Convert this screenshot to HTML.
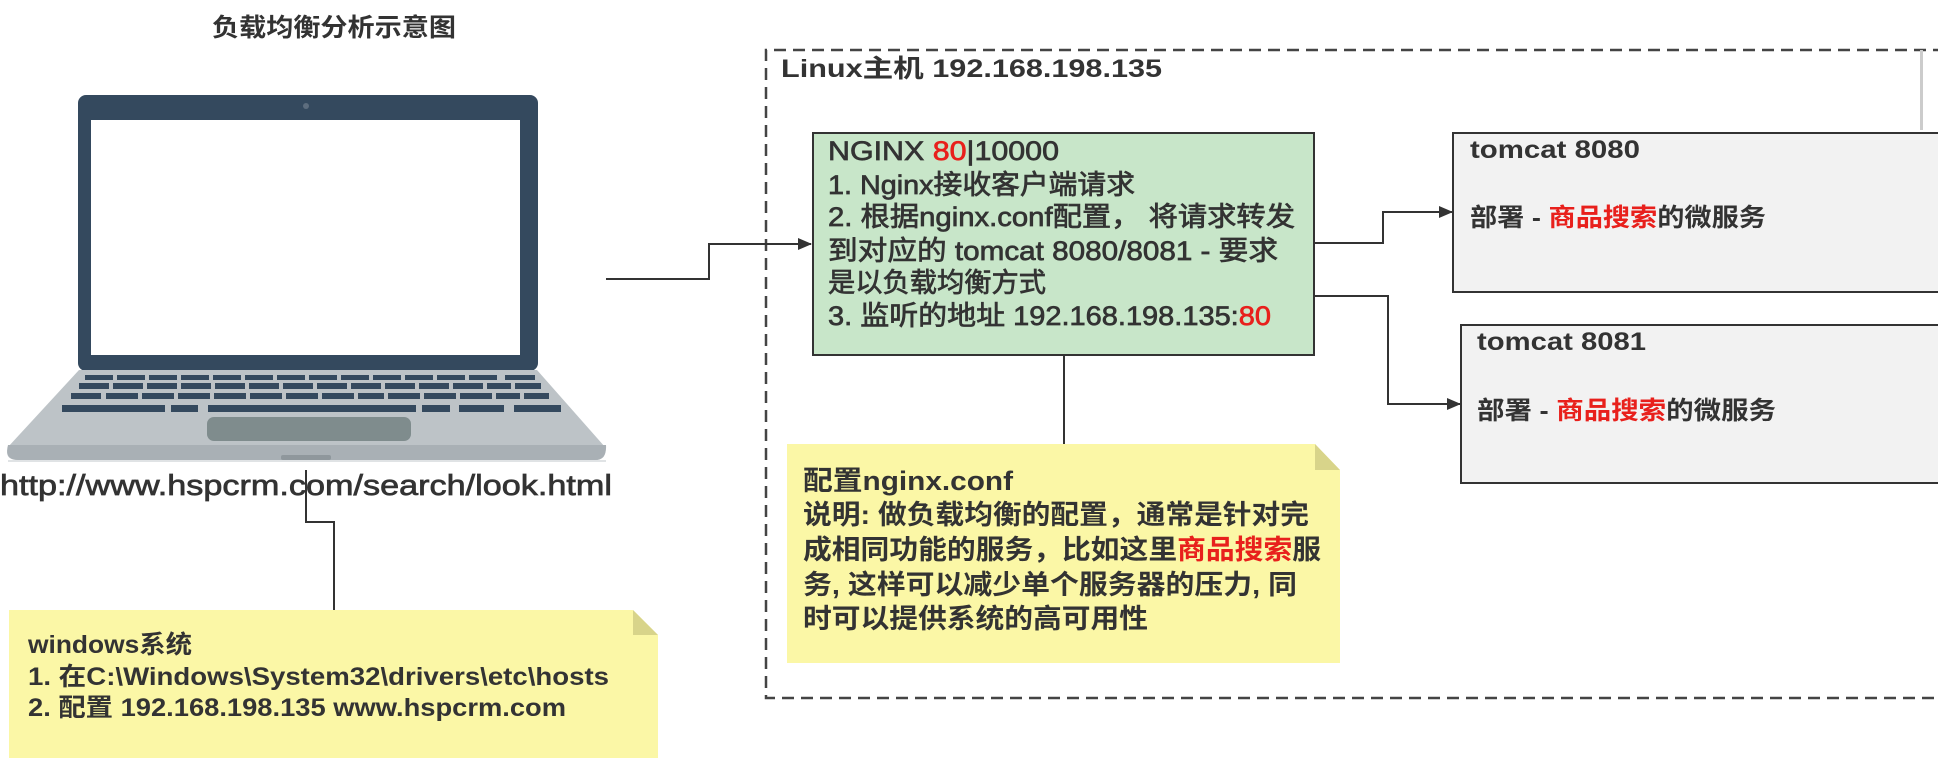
<!DOCTYPE html>
<html><head><meta charset="utf-8"><style>
html,body{margin:0;padding:0;background:#fff;}
svg{display:block}
text{font-family:"Liberation Sans","Noto Sans CJK SC",sans-serif;fill:#333;}
.b{font-weight:bold}
.m{stroke:#333;stroke-width:0.7}
.r{fill:#e8201c}
.m .r{stroke:#e8201c}
</style></head><body>
<svg width="1938" height="765" viewBox="0 0 1938 765" xmlns="http://www.w3.org/2000/svg">
<defs>
<marker id="ar" markerWidth="14" markerHeight="12" refX="13" refY="6" orient="auto" markerUnits="userSpaceOnUse">
<path d="M0,0 L14,6 L0,12 z" fill="#333"/>
</marker>
</defs>

<text x="334" y="36" font-size="25" class="b" text-anchor="middle" textLength="244" lengthAdjust="spacingAndGlyphs">负载均衡分析示意图</text>

<!-- laptop -->
<rect x="78" y="95" width="460" height="276" rx="8" fill="#34495e"/>
<rect x="91" y="120" width="429" height="235" fill="#fff"/>
<circle cx="306" cy="106" r="3" fill="#5d6d7e"/>
<path d="M79,370 L537,370 L605,447 Q607,460 595,460 L18,460 Q4,460 8,447 Z" fill="#bdc3c7"/>
<path d="M8,445 L606,445 Q607,460 595,460 L18,460 Q4,460 8,445 Z" fill="#a9b0b5"/>
<rect x="281" y="455" width="50" height="5" rx="2" fill="#8f979c"/>
<g fill="#34495e">
<rect x="85" y="375" width="28" height="5"/><rect x="117" y="375" width="28" height="5"/><rect x="149" y="375" width="28" height="5"/><rect x="181" y="375" width="28" height="5"/><rect x="213" y="375" width="28" height="5"/><rect x="245" y="375" width="28" height="5"/><rect x="277" y="375" width="28" height="5"/><rect x="309" y="375" width="28" height="5"/><rect x="341" y="375" width="28" height="5"/><rect x="373" y="375" width="28" height="5"/><rect x="405" y="375" width="28" height="5"/><rect x="437" y="375" width="28" height="5"/><rect x="469" y="375" width="28" height="5"/><rect x="505" y="375" width="30" height="5"/>
<rect x="79" y="383" width="30" height="6"/><rect x="113" y="383" width="30" height="6"/><rect x="147" y="383" width="30" height="6"/><rect x="181" y="383" width="30" height="6"/><rect x="215" y="383" width="30" height="6"/><rect x="249" y="383" width="30" height="6"/><rect x="283" y="383" width="30" height="6"/><rect x="317" y="383" width="30" height="6"/><rect x="351" y="383" width="30" height="6"/><rect x="385" y="383" width="30" height="6"/><rect x="419" y="383" width="30" height="6"/><rect x="453" y="383" width="30" height="6"/><rect x="487" y="383" width="24" height="6"/><rect x="515" y="383" width="26" height="6"/>
<rect x="71" y="393" width="30" height="6"/><rect x="106" y="393" width="32" height="6"/><rect x="142" y="393" width="32" height="6"/><rect x="178" y="393" width="32" height="6"/><rect x="214" y="393" width="32" height="6"/><rect x="250" y="393" width="32" height="6"/><rect x="286" y="393" width="32" height="6"/><rect x="322" y="393" width="32" height="6"/><rect x="358" y="393" width="26" height="6"/><rect x="388" y="393" width="32" height="6"/><rect x="424" y="393" width="32" height="6"/><rect x="460" y="393" width="32" height="6"/><rect x="496" y="393" width="24" height="6"/><rect x="524" y="393" width="25" height="6"/>
<rect x="62" y="405" width="103" height="7"/><rect x="171" y="405" width="27" height="7"/><rect x="208" y="405" width="208" height="7"/><rect x="422" y="405" width="28" height="7"/><rect x="459" y="405" width="45" height="7"/><rect x="514" y="405" width="47" height="7"/>
</g>
<rect x="207" y="417" width="204" height="24" rx="7" fill="#7f8c8d"/>
<rect x="8" y="460" width="598" height="2" fill="#e0e3e5"/>

<text x="0" y="495" font-size="29" class="m" textLength="612" lengthAdjust="spacingAndGlyphs">http://www.hspcrm.com/search/look.html</text>

<!-- laptop to windows note connector -->
<polyline points="306,470 306,522 334,522 334,610" fill="none" stroke="#333" stroke-width="2"/>

<!-- windows note -->
<path d="M9,610 L633,610 L658,635 L658,758 L9,758 Z" fill="#fbf7a6"/>
<path d="M633,610 L658,635 L633,635 Z" fill="#d8d48a"/>
<text x="28" y="653" font-size="25" class="b" textLength="164" lengthAdjust="spacingAndGlyphs">windows系统</text>
<text x="28" y="685" font-size="25" class="b" textLength="581" lengthAdjust="spacingAndGlyphs">1. 在C:\Windows\System32\drivers\etc\hosts</text>
<text x="28" y="716" font-size="25" class="b" textLength="538" lengthAdjust="spacingAndGlyphs">2. 配置 192.168.198.135 www.hspcrm.com</text>

<!-- linux dashed box -->
<path d="M1945,50 L766,50 L766,698 L1945,698" fill="none" stroke="#444" stroke-width="2.5" stroke-dasharray="12,7"/>
<text x="781" y="77" font-size="25" class="b" textLength="381" lengthAdjust="spacingAndGlyphs">Linux主机 192.168.198.135</text>

<!-- arrow laptop -> nginx -->
<polyline points="606,279 709,279 709,244 811,244" fill="none" stroke="#333" stroke-width="2" marker-end="url(#ar)"/>

<!-- nginx box -->
<rect x="813" y="133" width="501" height="222" fill="#c8e6c9" stroke="#333" stroke-width="2"/>
<g class="m">
<text x="828" y="160" font-size="27" class="m" textLength="231" lengthAdjust="spacingAndGlyphs">NGINX <tspan class="r">80</tspan>|10000</text>
<text x="828" y="194" font-size="27" class="m" textLength="307" lengthAdjust="spacingAndGlyphs">1. Nginx接收客户端请求</text>
<text x="828" y="226" font-size="27" class="m" textLength="467" lengthAdjust="spacingAndGlyphs">2. 根据nginx.conf配置， 将请求转发</text>
<text x="828" y="260" font-size="27" class="m" textLength="450" lengthAdjust="spacingAndGlyphs">到对应的 tomcat 8080/8081 - 要求</text>
<text x="828" y="292" font-size="27" class="m" textLength="218" lengthAdjust="spacingAndGlyphs">是以负载均衡方式</text>
<text x="828" y="325" font-size="27" class="m" textLength="443" lengthAdjust="spacingAndGlyphs">3. 监听的地址 192.168.198.135:<tspan class="r">80</tspan></text>
</g>

<!-- arrows nginx -> tomcats -->
<polyline points="1314,243 1383,243 1383,212 1452,212" fill="none" stroke="#333" stroke-width="2" marker-end="url(#ar)"/>
<polyline points="1314,296 1388,296 1388,404 1460,404" fill="none" stroke="#333" stroke-width="2" marker-end="url(#ar)"/>

<!-- nginx to note -->
<line x1="1064" y1="355" x2="1064" y2="444" stroke="#333" stroke-width="2"/>

<!-- tomcat boxes -->
<rect x="1453" y="133" width="495" height="159" fill="#f2f2f2" stroke="#333" stroke-width="2"/>
<text x="1470" y="158" font-size="25" class="b" textLength="170" lengthAdjust="spacingAndGlyphs">tomcat 8080</text>
<text x="1470" y="226" font-size="25" class="b" textLength="296" lengthAdjust="spacingAndGlyphs">部署 - <tspan class="r">商品搜索</tspan>的微服务</text>
<rect x="1461" y="325" width="487" height="158" fill="#f2f2f2" stroke="#333" stroke-width="2"/>
<text x="1477" y="350" font-size="25" class="b" textLength="169" lengthAdjust="spacingAndGlyphs">tomcat 8081</text>
<text x="1477" y="419" font-size="25" class="b" textLength="299" lengthAdjust="spacingAndGlyphs">部署 - <tspan class="r">商品搜索</tspan>的微服务</text>
<rect x="1920" y="50" width="3" height="80" fill="#ccc"/>

<!-- nginx.conf note -->
<path d="M787,444 L1315,444 L1340,470 L1340,663 L787,663 Z" fill="#fbf7a6"/>
<path d="M1315,444 L1340,470 L1315,470 Z" fill="#d8d48a"/>
<text x="803" y="490" font-size="27" class="b" textLength="210" lengthAdjust="spacingAndGlyphs">配置nginx.conf</text>
<text x="803" y="524" font-size="27" class="b" textLength="506" lengthAdjust="spacingAndGlyphs">说明: 做负载均衡的配置，通常是针对完</text>
<text x="803" y="559" font-size="27" class="b" textLength="518" lengthAdjust="spacingAndGlyphs">成相同功能的服务，比如这里<tspan class="r">商品搜索</tspan>服</text>
<text x="803" y="594" font-size="27" class="b" textLength="494" lengthAdjust="spacingAndGlyphs">务, 这样可以减少单个服务器的压力, 同</text>
<text x="803" y="628" font-size="27" class="b" textLength="345" lengthAdjust="spacingAndGlyphs">时可以提供系统的高可用性</text>
</svg>
</body></html>
